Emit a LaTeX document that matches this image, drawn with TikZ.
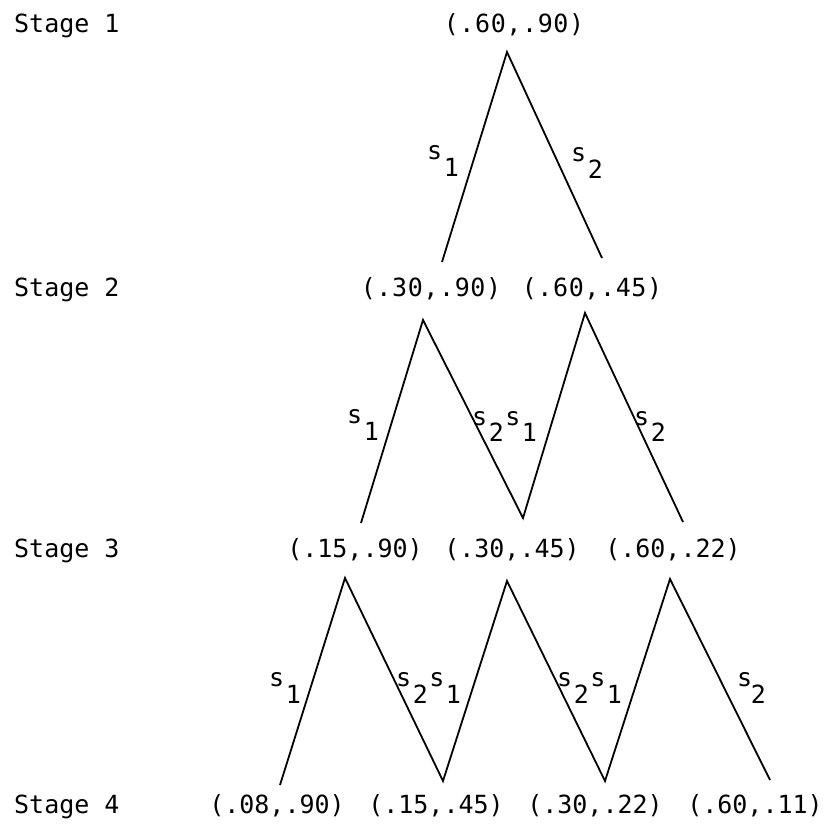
\documentclass[tikz,border=0pt]{standalone}
\usepackage{fontspec}
\newfontfamily\labfont{DejaVu Sans Mono}[LetterSpace=2.5]
\newfontfamily\labfontb{DejaVu Sans Mono}
\newfontfamily\edgefont{DejaVu Sans Mono}
\newcommand\sx[1]{s\kern1.5pt\raisebox{-17pt}{#1}\kern1.5pt}
\newcommand\sy[1]{s\kern-1.5pt\raisebox{-17pt}{#1}}
\begin{document}
\begin{tikzpicture}[x=1pt,y=-1pt,
  lab/.style={font=\labfont\fontsize{25}{30}\selectfont, inner sep=0pt, anchor=base},
  labb/.style={lab, font=\labfontb\fontsize{25}{30}\selectfont},
  stg/.style={labb, anchor=base west},
  elab/.style={font=\edgefont\fontsize{25}{30}\selectfont, inner sep=0pt, anchor=base west},
  branch/.style={line width=1.8pt}]
\useasboundingbox (0,0) rectangle (828,826);
% stage labels
\node[stg] (st1) at (14,33) {Stage 1};
\node[stg] (st2) at (14,297) {Stage 2};
\node[stg] (st3) at (14,557) {Stage 3};
\node[stg] (st4) at (14,813) {Stage 4};
% state labels
\node[lab] (n0) at (514,33) {(.60,.90)};
\node[lab] (n1a) at (431,297) {(.30,.90)};
\node[lab] (n1b) at (592,297) {(.60,.45)};
\node[labb] (n2a) at (355,557) {(.15,.90)};
\node[labb] (n2b) at (512,557) {(.30,.45)};
\node[labb] (n2c) at (673,557) {(.60,.22)};
\node[labb] (n3a) at (277,813) {(.08,.90)};
\node[labb] (n3b) at (436,813) {(.15,.45)};
\node[labb] (n3c) at (595,813) {(.30,.22)};
\node[labb] (n3d) at (755,813) {(.60,.11)};
% vertices
\coordinate (A) at (507,52);
\coordinate (B1) at (442,262);
\coordinate (B2) at (602,258);
\coordinate (C1) at (423,320);
\coordinate (C2) at (585,313);
\coordinate (D1) at (361,523);
\coordinate (D2) at (523,518);
\coordinate (D3) at (683,522);
\coordinate (E1) at (345,578);
\coordinate (E2) at (507,581);
\coordinate (E3) at (670,579);
\coordinate (F1) at (280,785);
\coordinate (F2) at (443,781);
\coordinate (F3) at (605,781);
\coordinate (F4) at (770,780);
% branches
\draw[branch] (B1) -- (A) -- (B2);
\draw[branch] (D1) -- (C1) -- (D2) -- (C2) -- (D3);
\draw[branch] (F1) -- (E1) -- (F2) -- (E2) -- (F3) -- (E3) -- (F4);
% edge labels
\node[elab] (l1a) at (427,160) {\sx{1}};
\node[elab] (l1b) at (571,162) {\sx{2}};
\node[elab] (l2a) at (347,424) {\sx{1}};
\node[elab] (l2b) at (472,425) {\sx{2}\sx{1}};
\node[elab] (l2c) at (634,425) {\sx{2}};
\node[elab] (l3a) at (269,686) {\sx{1}};
\node[elab] (l3b) at (396,686) {\sx{2}\sx{1}};
\node[elab] (l3c) at (557,686) {\sx{2}\sx{1}};
\node[elab] (l3d) at (737,686) {\sy{2}};
\end{tikzpicture}
\end{document}
